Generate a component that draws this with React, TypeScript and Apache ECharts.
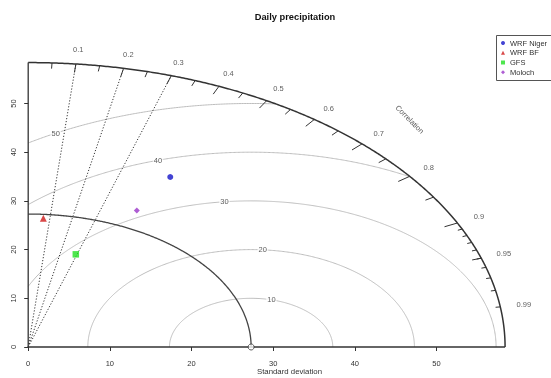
import React, { useEffect, useRef } from "react";
import * as echarts from "echarts";

// ---------------- data ----------------
const modelNames = ["WRF Niger", "WRF BF", "GFS", "Moloch"];
const modelStdDev = [39.0, 26.5, 19.9, 31.0];
const modelCorrelation = [0.446, 0.07, 0.293, 0.429];

const refStdDev = 27.3;
const maxStdDev = 58.4;

const rmsLevels = [10, 20, 30, 40, 50];
const rmsLabelAngles = [1.32, 1.5, 1.68, 1.86, 2.07];

const correlationLabels = [0.1, 0.2, 0.3, 0.4, 0.5, 0.6, 0.7, 0.8, 0.9, 0.95, 0.99];
const bigTickCorrelations = [0.1, 0.2, 0.3, 0.4, 0.5, 0.6, 0.7, 0.8, 0.9];
const medTickCorrelations = [0.05, 0.15, 0.25, 0.35, 0.45, 0.55, 0.65, 0.75, 0.85, 0.95];
const smallTickCorrelations = [0.91, 0.92, 0.93, 0.94, 0.95, 0.96, 0.97, 0.98, 0.99];
const dottedCorrelations = [0.1, 0.2, 0.3];

const sdTickValues = [0, 10, 20, 30, 40, 50];

// ---------------- styles ----------------
const FONT = "'Liberation Sans', Arial, sans-serif";
const markerStyles = [
  { symbol: "circle", size: 6, color: "#1414c8" },
  { symbol: "triangle", size: 7, color: "#d01a1a" },
  { symbol: "rect", size: 6.5, color: "#22e022" },
  { symbol: "diamond", size: 6, color: "#9a34c8" },
];

const polar = (sd: number, cor: number): [number, number] => [
  sd * cor,
  sd * Math.sqrt(Math.max(0, 1 - cor * cor)),
];

function arcPoints(cx: number, r: number, t0: number, t1: number): number[][] {
  const pts: number[][] = [];
  const n = Math.max(20, Math.ceil((t1 - t0) / 0.004));
  for (let i = 0; i <= n; i++) {
    const t = t0 + ((t1 - t0) * i) / n;
    pts.push([cx + r * Math.cos(t), r * Math.sin(t)]);
  }
  return pts;
}

function segmentSeries(name: string, segs: number[][], style: any, z: number) {
  return {
    type: "custom",
    name,
    coordinateSystem: "cartesian2d",
    silent: true,
    z,
    data: segs,
    encode: { x: [0, 2], y: [1, 3] },
    renderItem: (_p: any, api: any) => {
      const a = api.coord([api.value(0), api.value(1)]);
      const b = api.coord([api.value(2), api.value(3)]);
      return {
        type: "line",
        shape: { x1: a[0], y1: a[1], x2: b[0], y2: b[1] },
        style,
      };
    },
  };
}

function textSeries(name: string, pts: number[][], texts: string[], label: any, z: number) {
  return {
    type: "scatter",
    name,
    silent: true,
    z,
    clip: false,
    symbol: "circle",
    symbolSize: 1,
    itemStyle: { color: "rgba(0,0,0,0)" },
    data: pts,
    label: {
      show: true,
      position: "inside",
      formatter: (p: any) => texts[p.dataIndex],
      fontSize: 7.5,
      fontFamily: FONT,
      color: "#333",
      align: "center",
      verticalAlign: "middle",
      ...label,
    },
  };
}

export default function App() {
  const ref = useRef<HTMLDivElement>(null);

  useEffect(() => {
    if (!ref.current) return;
    const chart = echarts.init(ref.current, undefined, { renderer: "svg" });

    const tickSegs = (cors: number[], frac: number) =>
      cors.map((c) => {
        const a = polar(maxStdDev, c);
        const b = polar(maxStdDev * frac, c);
        return [a[0], a[1], b[0], b[1]];
      });

    const rmsSeries = rmsLevels.map((g) => {
      const k = (maxStdDev * maxStdDev - refStdDev * refStdDev - g * g) / (2 * refStdDev * g);
      const t0 = k >= 1 ? 0 : Math.acos(Math.max(-1, k));
      const t1 = g > refStdDev ? Math.acos(-refStdDev / g) : Math.PI;
      return {
        type: "line",
        name: "rms" + g,
        data: arcPoints(refStdDev, g, t0, t1),
        showSymbol: false,
        symbol: "none",
        silent: true,
        clip: false,
        z: 2,
        lineStyle: { color: "#bdbdbd", width: 1 },
      };
    });

    const dottedSeries = dottedCorrelations.map((c) => ({
      type: "line",
      name: "cor" + c,
      data: [[0, 0], polar(maxStdDev, c)],
      showSymbol: false,
      symbol: "none",
      silent: true,
      clip: false,
      z: 3,
      lineStyle: { color: "#333", width: 1, type: [1.2, 1.8] },
    }));

    const modelSeries = modelNames.map((name, i) => ({
      type: "scatter",
      name,
      data: [polar(modelStdDev[i], modelCorrelation[i])],
      symbol: markerStyles[i].symbol,
      symbolSize: markerStyles[i].size,
      itemStyle: { color: markerStyles[i].color },
      z: 10,
      clip: false,
    }));

    chart.setOption({
      animation: false,
      title: {
        text: "Daily precipitation",
        left: 290,
        top: 7.5,
        textAlign: "center",
        textStyle: { fontSize: 9.3, fontWeight: "bold", color: "#111", fontFamily: FONT },
      },
      graphic: [
        {
          type: "rect",
          shape: { x: 496.5, y: 35.5, width: 80, height: 45 },
          style: { fill: "#fff", stroke: "#555", lineWidth: 1 },
          z: -1,
          silent: true,
        },
      ],
      legend: {
        orient: "vertical",
        left: 496,
        top: 35,
        padding: [4, 10, 4, 5],
        itemWidth: 4,
        itemHeight: 4,
        itemGap: 1.5,
        borderWidth: 0,
        textStyle: { fontSize: 7.5, color: "#333", fontFamily: FONT, lineHeight: 8.2 },
        data: modelNames.map((n, i) => ({ name: n, icon: markerStyles[i].symbol })),
        selectedMode: false,
      },
      grid: {
        left: 28.2,
        top: 35.3,
        width: 522.6,
        height: 311.7,
        containLabel: false,
        outerBoundsMode: "none",
      },
      xAxis: {
        type: "value",
        min: 0,
        max: 64,
        interval: 10,
        name: "Standard deviation",
        nameLocation: "middle",
        nameGap: 20,
        nameMoveOverlap: false,
        nameTextStyle: { fontSize: 7.8, color: "#333", fontFamily: FONT },
        axisLine: { show: false },
        axisTick: { show: true, length: 4, lineStyle: { color: "#333" }, customValues: sdTickValues },
        axisLabel: {
          customValues: sdTickValues,
          fontSize: 7.5,
          color: "#333",
          fontFamily: FONT,
          margin: 12,
        },
        splitLine: { show: false },
      },
      yAxis: {
        type: "value",
        min: 0,
        max: 64,
        interval: 10,
        axisLine: { show: false },
        axisTick: { show: true, length: 4, lineStyle: { color: "#333" }, customValues: sdTickValues },
        axisLabel: {
          customValues: sdTickValues,
          fontSize: 7.5,
          color: "#333",
          fontFamily: FONT,
          margin: 11,
          rotate: 90,
        },
        splitLine: { show: false },
      },
      series: [
        ...rmsSeries,
        ...dottedSeries,
        {
          type: "line",
          name: "refArc",
          data: arcPoints(0, refStdDev, 0, Math.PI / 2),
          showSymbol: false,
          symbol: "none",
          silent: true,
          clip: false,
          z: 4,
          lineStyle: { color: "#444", width: 1.3 },
        },
        {
          type: "line",
          name: "outerArc",
          data: arcPoints(0, maxStdDev, 0, Math.PI / 2),
          showSymbol: false,
          symbol: "none",
          silent: true,
          clip: false,
          z: 5,
          lineStyle: { color: "#333", width: 1.5 },
        },
        segmentSeries(
          "axes",
          [
            [0, 0, maxStdDev, 0],
            [0, 0, 0, maxStdDev],
          ],
          { stroke: "#333", lineWidth: 1.3 },
          5
        ),
        segmentSeries(
          "ticks",
          [
            ...tickSegs(bigTickCorrelations, 0.97),
            ...tickSegs(medTickCorrelations, 0.98),
            ...tickSegs(smallTickCorrelations, 0.99),
          ],
          { stroke: "#333", lineWidth: 1 },
          5
        ),
        textSeries(
          "corLabels",
          correlationLabels.map((c) => polar(maxStdDev * 1.05, c)),
          correlationLabels.map((c) => String(c)),
          {},
          6
        ),
        textSeries(
          "rmsLabels",
          rmsLevels.map((g, i) => [
            refStdDev + g * Math.cos(rmsLabelAngles[i]),
            g * Math.sin(rmsLabelAngles[i]),
          ]),
          rmsLevels.map((g) => String(g)),
          { backgroundColor: "#fff", padding: [0, 1] },
          6
        ),
        textSeries(
          "corTitle",
          [[maxStdDev * 0.8, maxStdDev * 0.8]],
          ["Correlation"],
          { rotate: -45 },
          6
        ),
        {
          type: "scatter",
          name: "reference",
          data: [[refStdDev, 0]],
          symbol: "circle",
          symbolSize: 6,
          itemStyle: { color: "#fff", borderColor: "#333", borderWidth: 1 },
          silent: true,
          z: 8,
          clip: false,
        },
        ...modelSeries,
      ],
    });

    return () => chart.dispose();
  }, []);

  return (
    <div
      ref={ref}
      style={{
        position: "absolute",
        left: 0,
        top: 0,
        width: 551,
        height: 378,
        willChange: "transform",
      }}
    />
  );
}
